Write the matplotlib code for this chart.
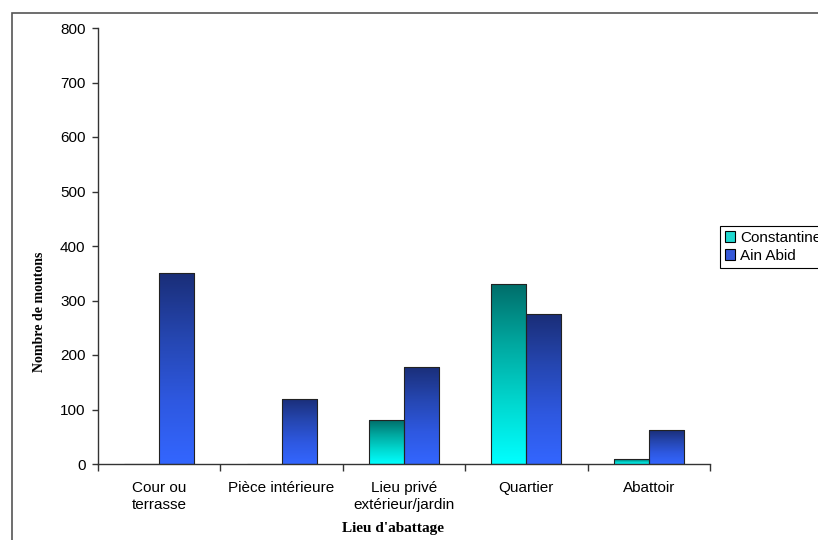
import matplotlib
matplotlib.use("Agg")
from matplotlib import pyplot as plt
from matplotlib.patches import Rectangle, Patch
from matplotlib.colors import LinearSegmentedColormap
import numpy as np

categories = ["Cour ou\nterrasse", "Pièce intérieure", "Lieu privé\nextérieur/jardin", "Quartier", "Abattoir"]
constantine = [0, 0, 80, 330, 9]
ain_abid = [350, 120, 178, 275, 62]
series_names = ["Constantine", "Ain Abid"]

# gradient colours (bottom -> top)
cmap_const = LinearSegmentedColormap.from_list("const", ["#00FFFF", "#00D8D0", "#00A8A0", "#006E6A"])
cmap_ain = LinearSegmentedColormap.from_list("ain", ["#3366FF", "#2E58E0", "#2546B0", "#1A2E78"])

plt.rcParams['font.family'] = ['Liberation Sans', 'DejaVu Sans']

fig = plt.figure(figsize=(8.18, 5.4), dpi=100)
ax = fig.add_axes([98/818, 76/540, 612/818, 436/540])

# outer chart border (cut off at right / bottom like the source)
fig.patches.append(Rectangle((12/818, -0.1), 1.0, 1 - 13/540 + 0.1, transform=fig.transFigure,
                             fill=False, edgecolor="#555555", linewidth=1.2))

x = np.arange(len(categories))
w = 0.286

bars_c = ax.bar(x - w/2, constantine, w, color="none", edgecolor="#222222", linewidth=0.8, zorder=3)
bars_a = ax.bar(x + w/2, ain_abid, w, color="none", edgecolor="#222222", linewidth=0.8, zorder=3)

grad = np.linspace(0, 1, 256).reshape(-1, 1)
for bars, cmap in [(bars_c, cmap_const), (bars_a, cmap_ain)]:
    for b in bars:
        h = b.get_height()
        if h <= 0:
            continue
        x0 = b.get_x()
        im = ax.imshow(grad, cmap=cmap, origin="lower", aspect="auto",
                       extent=[x0, x0 + b.get_width(), 0, h], zorder=2)
        im.set_clip_path(b)

ax.set_xlim(-0.5, len(categories) - 0.5)
ax.set_ylim(0, 800)
ax.set_yticks(range(0, 801, 100))
ax.set_xticks(x)
ax.set_xticklabels(categories, fontsize=11, linespacing=1.3)
ax.set_xticks(np.arange(-0.5, len(categories)), minor=True)
ax.tick_params(axis="x", which="major", length=0, pad=12)
ax.tick_params(axis="x", which="minor", length=5, width=1, color="#333333")
ax.tick_params(axis="y", length=4, width=1, color="#333333", labelsize=11, pad=5)

for s in ["top", "right"]:
    ax.spines[s].set_visible(False)
for s in ["left", "bottom"]:
    ax.spines[s].set_color("#333333")
    ax.spines[s].set_linewidth(1)

ax.set_xlabel("Lieu d'abattage", fontsize=11, fontweight="bold", family="Liberation Serif")
ax.xaxis.set_label_coords(0.482, -0.133)
ax.set_ylabel("Nombre de moutons", fontsize=10, fontweight="bold", family="Liberation Serif")
ax.yaxis.set_label_coords(-0.085, 0.35)

handles = [Patch(facecolor="#20D8D0", edgecolor="black", linewidth=0.8),
           Patch(facecolor="#3558D8", edgecolor="black", linewidth=0.8)]
leg = fig.legend(handles, series_names, loc="upper left", bbox_to_anchor=(720/818, 1 - 226/540),
                 fontsize=11, frameon=True, fancybox=False, framealpha=1, edgecolor="black",
                 handlelength=0.7, handleheight=0.7, handletextpad=0.3, borderpad=0.3,
                 labelspacing=0.3, borderaxespad=0)
leg.get_frame().set_linewidth(0.8)

fig.savefig("out.png", dpi=100)
